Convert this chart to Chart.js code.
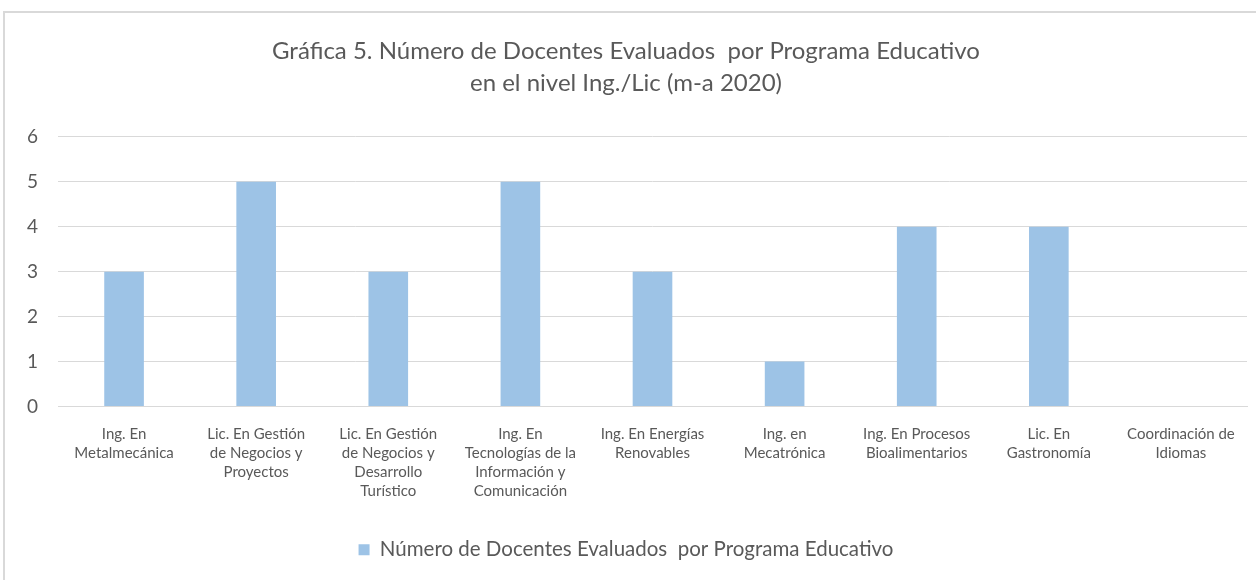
<!DOCTYPE html>
<html>
<head>
<meta charset="utf-8">
<script src="https://cdn.jsdelivr.net/npm/chart.js@4"></script>
<style>
  html, body { margin: 0; padding: 0; background: #fff; overflow: hidden; }
  #caja {
    position: absolute; left: 3px; top: 11px;
    width: 1270px; height: 600px;
    border: 2px solid #d9d9d9;
  }
  #grafico { position: absolute; left: 0; top: 0; }
</style>
</head>
<body>
<div id="caja"><canvas id="grafico" width="1256" height="570"></canvas></div>
<script>
// Datos de la gráfica
const programas = [
  ["Ing. En", "Metalmecánica"],
  ["Lic. En Gestión", "de Negocios y", "Proyectos"],
  ["Lic. En Gestión", "de Negocios y", "Desarrollo", "Turístico"],
  ["Ing. En", "Tecnologías de la", "Información y", "Comunicación"],
  ["Ing. En Energías", "Renovables"],
  ["Ing. en", "Mecatrónica"],
  ["Ing. En Procesos", "Bioalimentarios"],
  ["Lic. En", "Gastronomía"],
  ["Coordinación de", "Idiomas"]
];
const docentes = [3, 5, 3, 5, 3, 1, 4, 4, 0];
const titulo = [
  "Gráfica 5. Número de Docentes Evaluados  por Programa Educativo",
  "en el nivel Ing./Lic (m-a 2020)"
];
const serie = "Número de Docentes Evaluados  por Programa Educativo";

const fuente = "Lato, 'Open Sans', sans-serif";
const gris = "#595959";

const ctx = document.getElementById("grafico").getContext("2d");

new Chart(ctx, {
  type: "bar",
  data: {
    labels: programas,
    datasets: [{
      label: serie,
      data: docentes,
      backgroundColor: "#9dc3e6",
      borderWidth: 0,
      barPercentage: 0.3,
      categoryPercentage: 1
    }]
  },
  options: {
    responsive: false,
    animation: false,
    layout: { padding: { left: 0, right: 14, top: 0, bottom: 13 } },
    scales: {
      x: {
        afterFit: (eje) => { eje.height = 113; },
        grid: { display: false, drawTicks: false },
        border: { color: "#d9d9d9", width: 1 },
        ticks: {
          color: gris,
          font: { family: fuente, size: 15, lineHeight: 1.27 },
          maxRotation: 0,
          autoSkip: false,
          padding: 18
        }
      },
      y: {
        min: 0,
        max: 6,
        afterFit: (eje) => { eje.width = 53; },
        grid: { color: "#d9d9d9", lineWidth: 1, drawTicks: false },
        border: { display: false },
        ticks: {
          stepSize: 1,
          color: gris,
          font: { family: fuente, size: 19 },
          padding: 20
        }
      }
    },
    plugins: {
      title: {
        display: true,
        text: titulo,
        color: gris,
        font: { family: fuente, size: 24, weight: "normal", lineHeight: 1.33 },
        padding: { top: 22, bottom: 38 }
      },
      legend: {
        position: "bottom",
        labels: {
          color: gris,
          font: { family: fuente, size: 20.5 },
          boxWidth: 11,
          boxHeight: 11,
          padding: 20
        }
      },
      tooltip: { enabled: false }
    }
  }
});
</script>
</body>
</html>
